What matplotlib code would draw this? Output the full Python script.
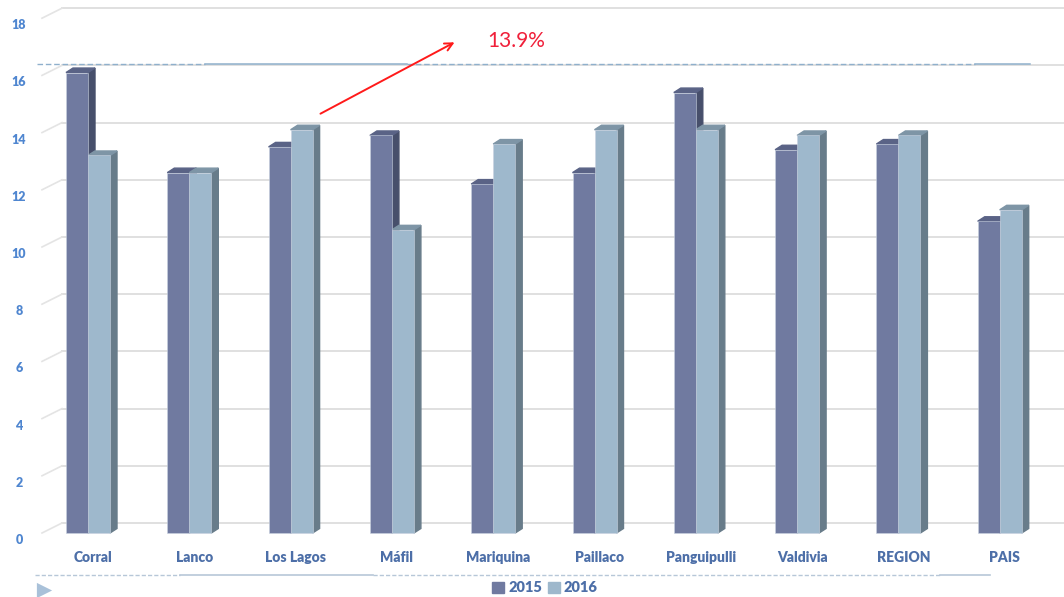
import matplotlib.pyplot as plt
import numpy as np
from matplotlib.patches import Polygon
from matplotlib.patches import Patch

categories = ["Corral", "Lanco", "Los Lagos", "Máfil", "Mariquina",
              "Paillaco", "Panguipulli", "Valdivia", "REGION", "PAIS"]
v2015 = [16.1, 12.6, 13.5, 13.9, 12.2, 12.6, 15.4, 13.4, 13.6, 10.9]
v2016 = [13.2, 12.6, 14.1, 10.6, 13.6, 14.1, 14.1, 13.9, 13.9, 11.3]
yticks = [0, 2, 4, 6, 8, 10, 12, 14, 16, 18]
series = ["2015", "2016"]

front = ["#707aa0", "#9eb8cc"]
side = ["#474f6b", "#687c8a"]
top = ["#5a6386", "#7e95a6"]
label_col = "#4d6fa8"
tick_col = "#4f86d0"

# pixel mapping: x px = 88 + 101.3*x ; y px(from top) = 533 - 28.6*v
PX = 101.3
PY = 28.6
W, H = 1064, 597

fig = plt.figure(figsize=(W / 100, H / 100), dpi=100)
ax = fig.add_axes([0, 0, 1, 1])
ax.set_xlim(-88 / PX, (W - 88) / PX)
ax.set_ylim(-(H - 533) / PY, 533 / PY)
ax.axis("off")

def px(xp):
    return (xp - 88) / PX

def py(yp):
    return (533 - yp) / PY

bw = 22 / PX
ddx, ddy = 7 / PX, 4.5 / PY
wdy = 10 / PY
x = np.arange(len(categories))

# back wall gridlines + side wall diagonals
for t in yticks:
    ax.plot([px(62), ax.get_xlim()[1]], [t + wdy, t + wdy],
            color="#e0e0e0", lw=1.4, zorder=1)
    ax.plot([px(42), px(62)], [t, t + wdy],
            color="#e4e4e4", lw=1.2, zorder=1)
    ax.text(px(19), t - 7 / PY, str(t), ha="center", va="center",
            fontsize=9, fontweight="heavy", color=tick_col, family="Lato")

# bars with pseudo-3d faces
for k, vals in enumerate([v2015, v2016]):
    xs = x - bw + k * bw
    ax.bar(xs, vals, width=bw, align="edge", color=front[k],
           edgecolor="#c9d2e0", linewidth=0.4, zorder=3)
    for xi, v in zip(xs, vals):
        ax.add_patch(Polygon([[xi + bw, 0], [xi + bw + ddx, ddy],
                              [xi + bw + ddx, v + ddy], [xi + bw, v]],
                             closed=True, color=side[k], zorder=2 + k * 0.5))
        ax.add_patch(Polygon([[xi, v], [xi + ddx, v + ddy],
                              [xi + bw + ddx, v + ddy], [xi + bw, v]],
                             closed=True, color=top[k], zorder=2 + k * 0.5))

# category labels
for xi, c in zip(x, categories):
    ax.text(xi + 5 / PX, -24 / PY, c, ha="center", va="center",
            fontsize=10, fontweight="heavy", color=label_col, family="Lato")

# reference line near top (mixed dashed / solid)
lc = "#8fb0cc"
for a, b, ls in [(37, 205, "--"), (205, 407, "-"), (407, 975, "--"), (975, 1030, "-")]:
    if ls == "--":
        ax.plot([px(a), px(b)], [py(64), py(64)], color=lc, lw=1, ls="--", dashes=(4, 2), zorder=4)
    else:
        ax.plot([px(a), px(b)], [py(64), py(64)], color=lc, lw=1.1, zorder=4)

# bottom separator line
bc = "#b7c7d8"
for a, b, ls in [(35, 180, "--"), (180, 373, "-"), (373, 940, "--"), (940, 990, "-")]:
    if ls == "--":
        ax.plot([px(a), px(b)], [py(575), py(575)], color=bc, lw=1, ls="--", dashes=(3, 1.5))
    else:
        ax.plot([px(a), px(b)], [py(575), py(575)], color=bc, lw=1.2)

ax.scatter([px(44)], [py(590)], marker=">", s=120, color="#a9c1d9", linewidths=0)

# red annotation
ax.annotate("", xy=(px(457), py(41)), xytext=(px(318), py(115)),
            arrowprops=dict(arrowstyle="->", color="#ff1a1a", lw=1.4,
                            mutation_scale=14), zorder=6)
ax.text(px(487), py(41), "13.9%", color="#f0203a", fontsize=15,
        ha="left", va="center", family="Lato")

# legend
handles = [Patch(color=front[0]), Patch(color=front[1])]
leg = fig.legend(handles, series, loc="center", bbox_to_anchor=(545 / W, 1 - 588 / H),
                 ncol=2, frameon=False, handlelength=0.8, handleheight=0.8,
                 handletextpad=0.3, columnspacing=0.4,
                 prop=dict(family="Lato", weight="heavy", size=10.5))
for t in leg.get_texts():
    t.set_color(label_col)

fig.savefig("out.png", dpi=100)
